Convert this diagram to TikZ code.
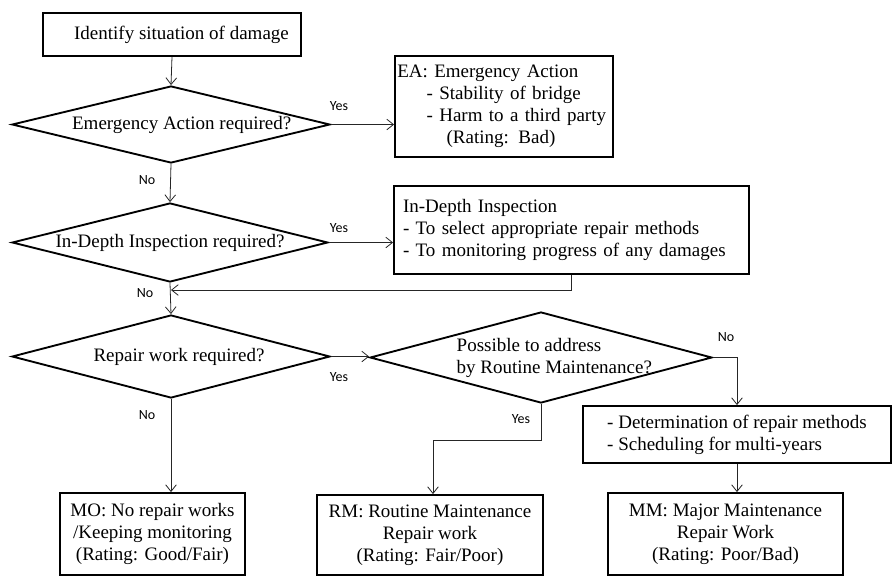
\documentclass[tikz,border=0pt]{standalone}
\usepackage{fontspec}
\setmainfont{Liberation Serif}
\newfontfamily\yesno{Carlito}
\usetikzlibrary{shapes.geometric,arrows.meta}

\begin{document}
\begin{tikzpicture}[x=0.75pt,y=-0.75pt,
	font=\fontsize{14.25}{16.5}\selectfont,
	box/.style={draw,line width=1.4pt,inner sep=0pt},
	decision/.style={diamond,draw,line width=1.4pt,inner sep=0pt},
	flow/.style={-{Straight Barb[length=5pt,width=8pt]},line width=0.6pt,black!85},
	ans/.style={font=\yesno\fontsize{10.5}{12}\selectfont}]
			\useasboundingbox (0,0) rectangle (894,576);
			% Left column: checks
			\node[box,minimum width=193.5pt,minimum height=32.25pt] (start) at (172,34.5) {\hspace*{1em}Identify situation of damage};
			\node[decision,minimum width=238.5pt,minimum height=57.75pt,label={[xshift=8pt]center:Emergency Action required?}] (d1) at (171,124.5) {};
			\node[decision,minimum width=237pt,minimum height=59.25pt,label={center:In-Depth Inspection required?}] (d2) at (170,242.5) {};
			\node[decision,minimum width=238.5pt,minimum height=62.25pt,label={[xshift=6pt]center:Repair work required?}] (d3) at (171,356.5) {};
			\node[decision,minimum width=256.5pt,minimum height=68.25pt,label={[xshift=10pt,align=left]center:Possible to address\\by Routine Maintenance?}] (d4) at (541,357.5) {};
			% Boxes on the right
			\node[box,minimum height=75.75pt,text width=160pt,inner xsep=1.75pt,align=left] (ea) at (504,106.5) {EA: Emergency Action\\\hspace*{22pt}- Stability of bridge\\\hspace*{22pt}- Harm to a third party\\\hspace*{37pt}(Rating: Bad)};
			\node[box,minimum height=66pt,text width=252.75pt,inner xsep=6.75pt,align=left] (idi) at (571.5,230) {In-Depth Inspection\\- To select appropriate repair methods\\- To monitoring progress of any damages};
			\node[box,minimum width=231pt,minimum height=42.75pt,align=left] (det) at (737,434.5) {- Determination of repair methods\\- Scheduling for multi-years};
			% Results
			\node[box,minimum width=138.75pt,minimum height=61.5pt,align=center] (mo) at (152.5,534) {MO: No repair works\\/Keeping monitoring\\(Rating: Good/Fair)};
			\node[box,minimum width=169.5pt,minimum height=60pt,align=center] (rm) at (430,535) {RM: Routine Maintenance\\Repair work\\(Rating: Fair/Poor)};
			\node[box,minimum width=176.25pt,minimum height=61.5pt,align=center] (mm) at (725.5,534) {MM: Major Maintenance\\Repair Work\\(Rating: Poor/Bad)};
			% Arrows
			\draw[flow] (start.south) -- (d1.north);
			\draw[flow] (d1.east) -- (d1.east -| ea.west);
			\draw[flow] (d1.south) -- (d2.north);
			\draw[flow] (d2.east) -- (d2.east -| idi.west);
			\coordinate (back) at (171,290);
			\draw[flow] (idi.south) |- (back);
			\draw[flow] (d2.south) -- (d3.north);
			\draw[flow] (d3.east) -- (d3.east -| d4.west);
			\draw[flow] (d3.south) -- (d3.south |- mo.north);
			\coordinate (jog) at (433,440);
			\draw[flow] (d4.south) |- (jog) -- (jog |- rm.north);
			\draw[flow] (d4.east) -| (det.north);
			\draw[flow] (det.south) -- (det.south |- mm.north);
			% Yes / No
			\node[ans] (yes1) at (339,106) {Yes};
			\node[ans] (no1) at (147,180) {No};
			\node[ans] (yes2) at (339,228) {Yes};
			\node[ans] (no2) at (145,293) {No};
			\node[ans] (yes3) at (339,377) {Yes};
			\node[ans] (no3) at (147,415) {No};
			\node[ans] (no4) at (726,337) {No};
			\node[ans] (yes4) at (521,419) {Yes};
			\end{tikzpicture}
\end{document}
